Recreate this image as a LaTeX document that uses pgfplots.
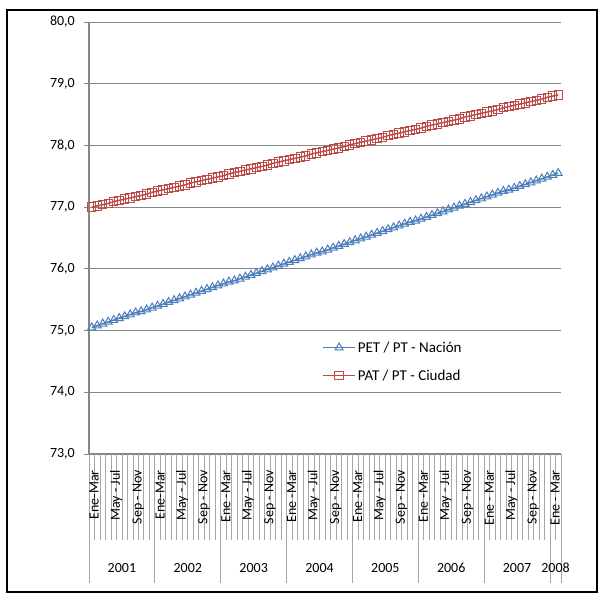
\documentclass[border=0pt]{standalone}
\usepackage{pgfplots}
\pgfplotsset{compat=1.18}
\usepackage{fontspec}
\setmainfont{Carlito}
\definecolor{nblue}{HTML}{4A7EBB}
\definecolor{cred}{HTML}{BE4B48}
\definecolor{gridgray}{HTML}{868686}
\definecolor{tickgray}{HTML}{A6A6A6}
\newcommand\fs{\fontsize{14}{16}\selectfont}
\newcommand\cl[2]{\node[rotate=90, anchor=east, inner sep=0pt, font=\fs] at (axis cs:#1,72.74) {#2};}
\newcommand\yl[2]{\node[anchor=center, inner sep=0pt, font=\fs] at (axis cs:#1,71.15) {#2};}
\begin{document}
\begin{tikzpicture}
\useasboundingbox (-89pt,-146pt) rectangle (517pt,454pt);
\draw[black, line width=1.8pt] (-82pt,-138pt) rectangle (508pt,444pt);
\begin{axis}[
  at={(0pt,0pt)}, anchor=south west,
  scale only axis, width=472pt, height=432pt,
  xmin=-0.5, xmax=85.5, ymin=73, ymax=80,
  clip=false,
  axis x line=bottom, axis y line=left, axis line style={-},
  x axis line style={draw=gridgray, line width=1.4pt},
  y axis line style={draw=gridgray, line width=1.3pt},
  xtick=\empty,
  ytick={73,74,...,80},
  ymajorgrids, grid style={gridgray, line width=0.9pt},
  tick align=outside, major tick length=5pt,
  ytick style={draw=gridgray, line width=0.9pt},
  yticklabel style={font=\fs, inner xsep=0pt, xshift=-9pt,
    /pgf/number format/fixed, /pgf/number format/fixed zerofill,
    /pgf/number format/precision=1, /pgf/number format/use comma,
    /pgf/number format/assume math mode=true},
  legend style={at={(0.494,0.265)}, anchor=north west, draw=none, fill=none,
    font=\fontsize{15}{17}\selectfont, row sep=12pt, inner sep=0pt},
  legend cell align=left,
  legend image code/.code={\draw[mark repeat=2,mark phase=2,#1] plot coordinates {(0pt,0pt)(16pt,0pt)(32pt,0pt)};},
]
\addplot[nblue, line width=1.5pt, mark=triangle, mark size=4.6pt, mark options={fill=white, line width=1pt}] coordinates {
(0,75.05)(1,75.08)(2,75.11)(3,75.14)(4,75.17)(5,75.20)(6,75.23)(7,75.26)(8,75.29)(9,75.31)
(10,75.34)(11,75.37)(12,75.40)(13,75.43)(14,75.46)(15,75.49)(16,75.52)(17,75.55)(18,75.58)(19,75.61)
(20,75.64)(21,75.67)(22,75.70)(23,75.73)(24,75.76)(25,75.79)(26,75.81)(27,75.84)(28,75.87)(29,75.90)
(30,75.93)(31,75.96)(32,75.99)(33,76.02)(34,76.05)(35,76.08)(36,76.11)(37,76.14)(38,76.17)(39,76.20)
(40,76.23)(41,76.26)(42,76.28)(43,76.31)(44,76.34)(45,76.37)(46,76.40)(47,76.43)(48,76.46)(49,76.49)
(50,76.52)(51,76.55)(52,76.58)(53,76.61)(54,76.64)(55,76.67)(56,76.70)(57,76.73)(58,76.76)(59,76.78)
(60,76.81)(61,76.84)(62,76.87)(63,76.90)(64,76.93)(65,76.96)(66,76.99)(67,77.02)(68,77.05)(69,77.08)
(70,77.11)(71,77.14)(72,77.17)(73,77.20)(74,77.23)(75,77.26)(76,77.28)(77,77.31)(78,77.34)(79,77.37)
(80,77.40)(81,77.43)(82,77.46)(83,77.49)(84,77.52)(85,77.55)};
\addlegendentry{PET / PT -  Nación}
\addplot[cred, line width=1.5pt, mark=square, mark size=4.2pt, mark options={fill=white, line width=1pt}] coordinates {
(0,77.00)(1,77.02)(2,77.04)(3,77.06)(4,77.09)(5,77.11)(6,77.13)(7,77.15)(8,77.17)(9,77.19)
(10,77.21)(11,77.24)(12,77.26)(13,77.28)(14,77.30)(15,77.32)(16,77.34)(17,77.36)(18,77.39)(19,77.41)
(20,77.43)(21,77.45)(22,77.47)(23,77.49)(24,77.51)(25,77.54)(26,77.56)(27,77.58)(28,77.60)(29,77.62)
(30,77.64)(31,77.66)(32,77.68)(33,77.71)(34,77.73)(35,77.75)(36,77.77)(37,77.79)(38,77.81)(39,77.83)
(40,77.86)(41,77.88)(42,77.90)(43,77.92)(44,77.94)(45,77.96)(46,77.98)(47,78.01)(48,78.03)(49,78.05)
(50,78.07)(51,78.09)(52,78.11)(53,78.13)(54,78.16)(55,78.18)(56,78.20)(57,78.22)(58,78.24)(59,78.26)
(60,78.28)(61,78.31)(62,78.33)(63,78.35)(64,78.37)(65,78.39)(66,78.41)(67,78.43)(68,78.46)(69,78.48)
(70,78.50)(71,78.52)(72,78.54)(73,78.56)(74,78.58)(75,78.61)(76,78.63)(77,78.65)(78,78.67)(79,78.69)
(80,78.71)(81,78.73)(82,78.75)(83,78.78)(84,78.80)(85,78.82)};
\addlegendentry{PAT / PT - Ciudad}
\pgfplotsinvokeforeach{-0.5,0.5,...,85.5}{\draw[tickgray, line width=0.8pt] (axis cs:#1,73) -- ++(0pt,-86pt);}
\pgfplotsinvokeforeach{-0.5,11.5,...,83.5}{\draw[tickgray, line width=0.8pt] (axis cs:#1,73) -- ++(0pt,-129pt);}
\draw[tickgray, line width=0.8pt] (axis cs:85.5,73) -- ++(0pt,-129pt);
\cl{0.45}{Ene-Mar}\cl{4.45}{May - Jul}\cl{8.45}{Sep - Nov}
\cl{12.45}{Ene-Mar}\cl{16.45}{May - Jul}\cl{20.45}{Sep - Nov}
\cl{24.45}{Ene -Mar}\cl{28.45}{May - Jul}\cl{32.45}{Sep - Nov}
\cl{36.45}{Ene -Mar}\cl{40.45}{May - Jul}\cl{44.45}{Sep - Nov}
\cl{48.45}{Ene -Mar}\cl{52.45}{May - Jul}\cl{56.45}{Sep - Nov}
\cl{60.45}{Ene -Mar}\cl{64.45}{May - Jul}\cl{68.45}{Sep - Nov}
\cl{72.45}{Ene - Mar}\cl{76.45}{May - Jul}\cl{80.45}{Sep - Nov}
\cl{84.45}{Ene - Mar}
\yl{5.5}{2001}\yl{17.5}{2002}\yl{29.5}{2003}\yl{41.5}{2004}
\yl{53.5}{2005}\yl{65.5}{2006}\yl{77.5}{2007}\yl{84.5}{2008}
\end{axis}
\end{tikzpicture}
\end{document}
